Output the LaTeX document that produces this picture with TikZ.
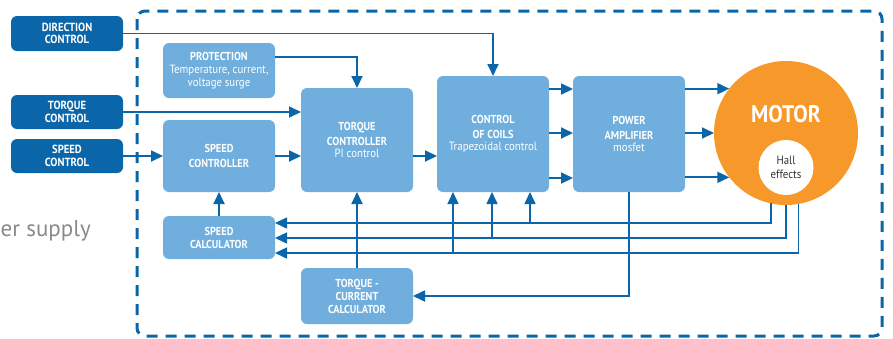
\documentclass[tikz,border=0pt]{standalone}
\usepackage{fontspec}
\setmainfont{PT Sans}
\newfontfamily\dinfont[FakeStretch=0.9]{PT Sans}
\usetikzlibrary{arrows.meta}
\definecolor{dblue}{HTML}{0A66A8}
\definecolor{lblue}{HTML}{6FAEDD}
\definecolor{motorc}{HTML}{F7982A}
\definecolor{graytxt}{HTML}{8A8A8A}
\newcommand{\subtxt}{\dinfont\mdseries\fontsize{12}{13}\selectfont}
\begin{document}
\begin{tikzpicture}[x=1pt,y=-1pt,
  dbox/.style={fill=dblue, rounded corners=6pt, text=white, align=center, inner sep=0pt, outer sep=0pt,
    minimum width=112pt, font=\dinfont\bfseries\fontsize{11.8}{12.5}\selectfont},
  lbox/.style={fill=lblue, rounded corners=6pt, text=white, align=center, inner sep=0pt, outer sep=0pt,
    minimum width=112pt, font=\dinfont\bfseries\fontsize{11.5}{14.5}\selectfont},
  arr/.style={draw=dblue, line width=1.8pt, -{Triangle[length=12pt,width=11pt]}},
  fbarr/.style={draw=dblue, line width=1.5pt, -{Triangle[length=12pt,width=11pt]}}
]
\useasboundingbox (0,0) rectangle (893,338);
% outer dashed frame
\draw[dblue, line width=3pt, dash pattern=on 11pt off 8pt, rounded corners=8pt] (137,11) rectangle (882,336);
% partial power supply text
\node[anchor=base west, inner sep=0pt, text=graytxt, font=\fontsize{23}{25}\selectfont] (ps) at (0.5,236.5) {er supply};
% input boxes
\node[dbox, minimum height=35pt] (dir) at (67,33.5) {DIRECTION\\CONTROL};
\node[dbox, minimum height=34pt] (torq) at (67,112) {TORQUE\\CONTROL};
\node[dbox, minimum height=34pt] (spd) at (67,156) {SPEED\\CONTROL};
% internal boxes
\node[lbox, minimum height=55pt, font=\dinfont\bfseries\fontsize{11.5}{13}\selectfont] (prot) at (219,70.5) {PROTECTION\\{\subtxt Temperature, current,}\\{\subtxt voltage surge}};
\node[lbox, minimum height=72pt] (spdc) at (219,156) {SPEED\\CONTROLLER};
\node[lbox, minimum height=43pt, font=\dinfont\bfseries\fontsize{11.5}{13}\selectfont] (spdcalc) at (219,237.5) {SPEED\\CALCULATOR};
\node[lbox, minimum height=104pt] (tqc) at (357,140) {TORQUE\\CONTROLLER\\[-2.5pt]{\subtxt PI control}};
\node[lbox, minimum height=116pt] (coils) at (493,134) {CONTROL\\OF COILS\\[-2.5pt]{\subtxt Trapezoidal control}};
\node[lbox, minimum height=116pt] (pamp) at (629,134) {POWER\\AMPLIFIER\\[-2.5pt]{\subtxt mosfet}};
\node[lbox, minimum height=56pt, font=\dinfont\bfseries\fontsize{11.5}{13}\selectfont] (tcc) at (357,296) {TORQUE -\\CURRENT\\CALCULATOR};
% motor
\node[circle, fill=motorc, minimum size=144pt, inner sep=0pt, outer sep=0pt] (motor) at (786,133) {};
\node[text=white, font=\dinfont\bfseries\fontsize{24}{26}\selectfont, inner sep=0pt] (mtxt) at (786,114) {MOTOR};
\node[circle, fill=white, minimum size=55pt, inner sep=0pt, align=center, text=black!80,
  font=\dinfont\fontsize{12}{14}\selectfont] (hall) at (786,167.5) {Hall\\effects};
% connectors
\draw[arr] (dir.east) -| (coils.north);
\draw[arr] (prot.east |- 0,57) -| (tqc.north);
\draw[arr] (torq.east) -- (tqc.west |- torq.east);
\draw[arr] (spd.east) -- (spdc.west |- spd.east);
\draw[arr] (spdc.east) -- (tqc.west |- spdc.east);
\draw[arr] (tqc.east |- spdc.east) -- (coils.west |- spdc.east);
\draw[arr] (coils.east |- 0,89) -- (pamp.west |- 0,89);
\draw[arr] (coils.east |- 0,133) -- (pamp.west |- 0,133);
\draw[arr] (coils.east |- 0,178) -- (pamp.west |- 0,178);
\draw[arr] (pamp.east |- motor.142.3) -- (motor.142.3);
\draw[arr] (pamp.east |- motor.west) -- (motor.west);
\draw[arr] (pamp.east |- motor.218.7) -- (motor.218.7);
\draw[arr] (spdcalc.north) -- (spdc.south);
\draw[arr] (tcc.north) -- (tqc.south);
\draw[arr] (pamp.south) |- (tcc.east);
% feedback
\draw[fbarr] (motor.258) |- (spdcalc.east |- 0,223);
\draw[fbarr] (motor.270) |- (spdcalc.east |- 0,238);
\draw[fbarr] (motor.280.4) |- (spdcalc.east |- 0,253);
\coordinate (j1) at (530,223);
\coordinate (j2) at (492,238);
\coordinate (j3) at (453,253);
\draw[fbarr] (j1) -- (coils.south -| j1);
\draw[fbarr] (j2) -- (coils.south -| j2);
\draw[fbarr] (j3) -- (coils.south -| j3);
\end{tikzpicture}
\end{document}
